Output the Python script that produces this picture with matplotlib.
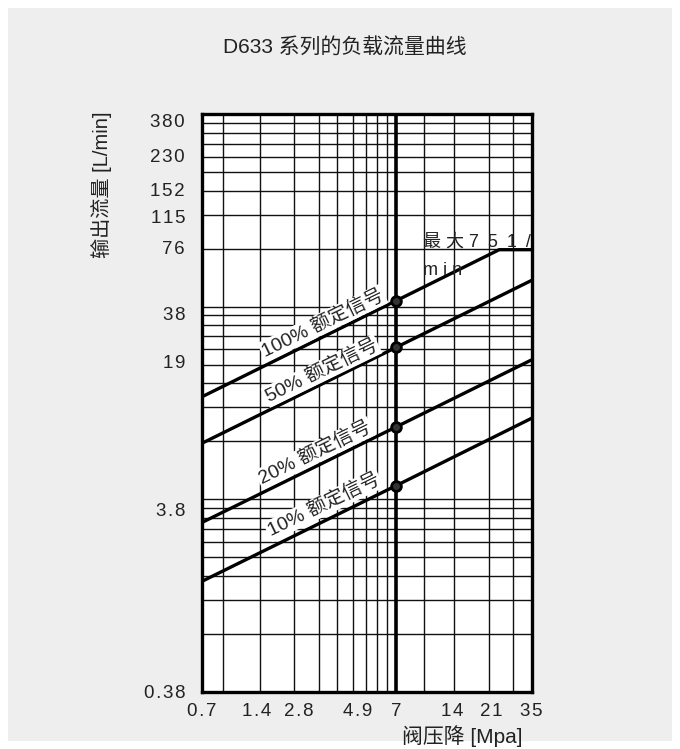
import matplotlib

matplotlib.use("Agg")

import matplotlib.pyplot as plt
from matplotlib.patches import Rectangle

plt.rcParams["font.family"] = ["Liberation Sans", "Noto Sans CJK SC", "DejaVu Sans"]

# 曲线数据 (阀压降 MPa, 流量 L/min)
SIGNALS = ["100%", "50%", "20%", "10%"]
Q100_X = [0.7, 7, 23.8, 35]
Q100_Y = [12.9, 40.7, 75, 75]
QX = [0.7, 7, 35]
Q50_Y = [7.4, 23.3, 52.0]
Q20_Y = [2.87, 9.0, 20.1]
Q10_Y = [1.42, 4.46, 10.0]
RATED_DP = 7
RATED_Q = [40.7, 23.3, 9.0, 4.46]

# 刻度与网格
X_TICK_LABELS = ["0.7", "1.4", "2.8", "4.9", "7", "14", "21", "35"]
Y_TICK_LABELS = ["0.38", "3.8", "19", "38", "76", "115", "152", "230", "380"]
X_GRID = [0.9, 1.4, 2.1, 2.8, 3.5, 4.2, 4.9, 5.6, 6.3, 7, 9.8, 14, 21, 28]
Y_GRID = [0.76, 1.14, 1.52, 1.9, 2.28, 2.66, 3.04, 3.42, 3.8,
          7.6, 11.4, 15.2, 19, 22.8, 26.6, 30.4, 34.2, 38,
          76, 114, 152, 190, 228, 266, 304, 342]

# 标签位置(原图里刻度文字并不正好在对数位置上)
x_tick_pos = [0.7, 1.35, 2.22, 4.42, 7, 13.7, 21.6, 35]
y_tick_pos = [0.38, 3.36, 19.6, 35, 76.8, 111, 154, 230.5, 351]
label_pos = [(2.94, 31.2), (2.90, 17.6), (2.67, 6.6), (2.97, 3.54)]


def spaced(s):
    return "\u200a".join(s)


fig = plt.figure(figsize=(6.8, 7.49), dpi=100, facecolor="white")
fig.patches.append(Rectangle((8 / 680, 8 / 749), 664 / 680, 733 / 749,
                             transform=fig.transFigure, facecolor="#eeeeee",
                             edgecolor="none", zorder=-10))

ax = fig.add_axes([201.7 / 680, 1 - 691.7 / 749, 330 / 680, 577.7 / 749])
ax.set_facecolor("white")
ax.set_xscale("log")
ax.set_yscale("log")
ax.set_xlim(0.7, 35)
ax.set_ylim(0.38, 380)

ax.set_xticks(x_tick_pos, [spaced(t) for t in X_TICK_LABELS])
ax.set_yticks(y_tick_pos, [spaced(t) for t in Y_TICK_LABELS])
ax.set_xticks(X_GRID, minor=True)
ax.set_yticks(Y_GRID, minor=True)
ax.xaxis.set_minor_formatter(plt.NullFormatter())
ax.yaxis.set_minor_formatter(plt.NullFormatter())
ax.tick_params(which="both", length=0, labelsize=13.5, colors="#222222")
ax.tick_params(axis="x", pad=8)
ax.tick_params(axis="y", pad=12)
ax.grid(False, which="major")
ax.grid(True, which="minor", color="#111111", linewidth=1.0)
for sp in ax.spines.values():
    sp.set_linewidth(2.4)
    sp.set_color("black")

ax.axvline(RATED_DP, color="black", linewidth=2.6, zorder=3)

ax.plot(Q100_X, Q100_Y, color="black", linewidth=2.4, zorder=4)
for ys in [Q50_Y, Q20_Y, Q10_Y]:
    ax.plot(QX, ys, color="black", linewidth=2.4, zorder=4)
ax.plot([RATED_DP] * len(RATED_Q), RATED_Q, "o", ms=7, mfc="#333333",
        mec="black", mew=2, zorder=5)

for sig, (lx, ly) in zip(SIGNALS, label_pos):
    ax.text(lx, ly, sig + " 额定信号", fontsize=14, rotation=26,
            rotation_mode="anchor", ha="center", va="center", color="#222222",
            bbox=dict(facecolor="white", edgecolor="none", pad=1), zorder=6)

ax.text(9.6, 82.5, "最 大 7\u20025\u20021\u2002/", fontsize=13, ha="left",
        va="center", color="#222222", zorder=6)
ax.text(9.6, 58.8, "m i n", fontsize=13, ha="left", va="center",
        color="#222222", zorder=6)

fig.text(345 / 680, 1 - 48 / 749, "D633 系列的负载流量曲线", fontsize=15,
         ha="center", va="center", color="#222222")
fig.text(101.7 / 680, 1 - 185 / 749, "输出流量 [L/min]", fontsize=14.5,
         rotation=90, ha="center", va="center", color="#222222")
fig.text(462 / 680, 1 - 736 / 749, "阀压降 [Mpa]", fontsize=15,
         ha="center", va="center", color="#222222")

fig.savefig("out.png", dpi=100, facecolor=fig.get_facecolor())
